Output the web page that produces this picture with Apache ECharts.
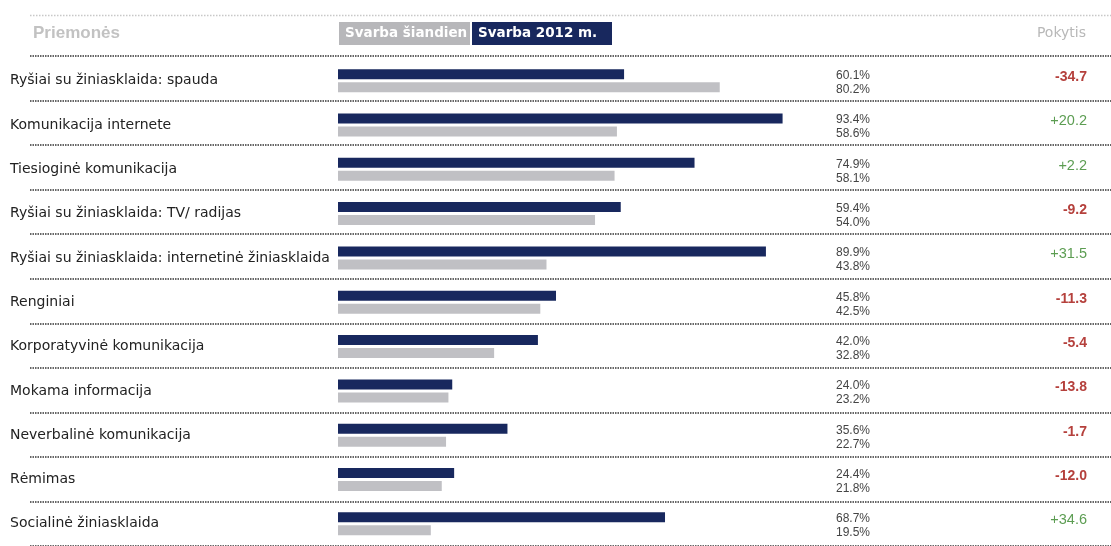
<!DOCTYPE html>
<html>
<head>
<meta charset="utf-8">
<script src="https://cdn.jsdelivr.net/npm/echarts@6/dist/echarts.min.js"></script>
<style>
  html, body { margin: 0; padding: 0; background: #fff; }
  #container { width: 1111px; height: 546px; }
</style>
</head>
<body>
<div id="container"></div>
<script>
  // eilutės (priemonės)
  const categories = [
    'Ryšiai su žiniasklaida: spauda',
    'Komunikacija internete',
    'Tiesioginė komunikacija',
    'Ryšiai su žiniasklaida: TV/ radijas',
    'Ryšiai su žiniasklaida: internetinė žiniasklaida',
    'Renginiai',
    'Korporatyvinė komunikacija',
    'Mokama informacija',
    'Neverbalinė komunikacija',
    'Rėmimas',
    'Socialinė žiniasklaida'
  ];
  // tamsūs stulpeliai
  const darkValues = [60.1, 93.4, 74.9, 59.4, 89.9, 45.8, 42.0, 24.0, 35.6, 24.4, 68.7];
  // pilki stulpeliai
  const greyValues = [80.2, 58.6, 58.1, 54.0, 43.8, 42.5, 32.8, 23.2, 22.7, 21.8, 19.5];
  // pokytis
  const changes = [-34.7, 20.2, 2.2, -9.2, 31.5, -11.3, -5.4, -13.8, -1.7, -12.0, 34.6];

  const FONT = '"Liberation Sans", Arial, sans-serif';
  const WIDE = '"DejaVu Sans", sans-serif';
  const NAVY = '#18285e';
  const GREY = '#c0c0c4';

  const myChart = echarts.init(document.getElementById('container'), null, { renderer: 'canvas' });

  const option = {
    backgroundColor: '#fff',
    animation: false,
    textStyle: { fontFamily: FONT },
    title: [
      { text: 'Priemonės', left: 28, top: 20,
        textStyle: { fontFamily: FONT, fontSize: 17, fontWeight: 'bold', color: '#c2c2c2' } },
      { text: 'Pokytis', right: 20, top: 21,
        textStyle: { fontFamily: WIDE, fontSize: 14, fontWeight: 'normal', color: '#b8b8b8' } }
    ],
    legend: {
      left: 329, top: 17,
      itemWidth: 0, itemHeight: 0, itemGap: -3,
      icon: 'rect',
      selectedMode: false,
      data: [
        { name: 'Svarba šiandien',
          textStyle: { backgroundColor: '#b7b7ba', color: '#fff', fontWeight: 'bold', fontSize: 13.5,
                       fontFamily: WIDE, padding: [5, 6, 4, 6], width: 119, align: 'center' } },
        { name: 'Svarba 2012 m.',
          textStyle: { backgroundColor: NAVY, color: '#fff', fontWeight: 'bold', fontSize: 13.5,
                       fontFamily: WIDE, padding: [5, 6, 4, 6], width: 128, align: 'center' } }
      ]
    },
    graphic: [
      { type: 'line', shape: { x1: 30, y1: 15.5, x2: 1111, y2: 15.5 },
        style: { stroke: '#c8c8c8', lineWidth: 1.5, lineDash: [1.5, 1.5] } }
    ],
    grid: [
      { left: 338, right: 297, top: 58.5, height: 490.6 },
      { left: 30, right: 0, top: 56, height: 490.6 }
    ],
    xAxis: [
      { type: 'value', gridIndex: 0, min: 0, max: 100, show: false },
      { type: 'value', gridIndex: 1, min: 0, max: 1, show: false }
    ],
    yAxis: [
      {
        type: 'category', gridIndex: 0, data: categories, inverse: true, position: 'left',
        axisLine: { show: false }, axisTick: { show: false }, splitLine: { show: false },
        axisLabel: { align: 'left', margin: 328, fontSize: 14, color: '#222', fontFamily: WIDE }
      },
      {
        type: 'category', gridIndex: 0, data: categories, inverse: true, position: 'right',
        axisLine: { show: false }, axisTick: { show: false }, splitLine: { show: false },
        axisLabel: {
          align: 'left', margin: 22, padding: [4, 0, 0, 0],
          formatter: (v, i) => '{v|' + darkValues[i].toFixed(1) + '%}\n{v|' + greyValues[i].toFixed(1) + '%}',
          rich: { v: { fontSize: 12, lineHeight: 14, color: '#444', fontFamily: FONT } }
        }
      },
      {
        type: 'category', gridIndex: 0, data: categories, inverse: true, position: 'right', offset: 273,
        axisLine: { show: false }, axisTick: { show: false }, splitLine: { show: false },
        axisLabel: {
          align: 'right', margin: 0, padding: [0, 0, 7, 0],
          formatter: (v, i) => {
            const c = changes[i];
            return c < 0 ? '{neg|' + c.toFixed(1) + '}' : '{pos|+' + c.toFixed(1) + '}';
          },
          rich: {
            neg: { fontSize: 14, fontWeight: 'bold', color: '#b5403c', fontFamily: FONT },
            pos: { fontSize: 14.5, color: '#5c9d52', fontFamily: FONT }
          }
        }
      },
      {
        type: 'category', gridIndex: 1, data: categories, inverse: true,
        axisLine: { show: false }, axisTick: { show: false }, axisLabel: { show: false },
        splitLine: { show: true, lineStyle: { color: '#333', width: 1.5, type: [1.5, 1] } }
      }
    ],
    series: [
      {
        name: 'Svarba 2012 m.', type: 'bar', xAxisIndex: 0, yAxisIndex: 0,
        data: darkValues, barWidth: 10, barGap: '30%',
        itemStyle: { color: NAVY }
      },
      {
        name: 'Svarba šiandien', type: 'bar', xAxisIndex: 0, yAxisIndex: 0,
        data: greyValues, barWidth: 10, barGap: '30%',
        itemStyle: { color: GREY }
      }
    ]
  };

  myChart.setOption(option);
  window.addEventListener('resize', () => myChart.resize());
</script>
</body>
</html>
